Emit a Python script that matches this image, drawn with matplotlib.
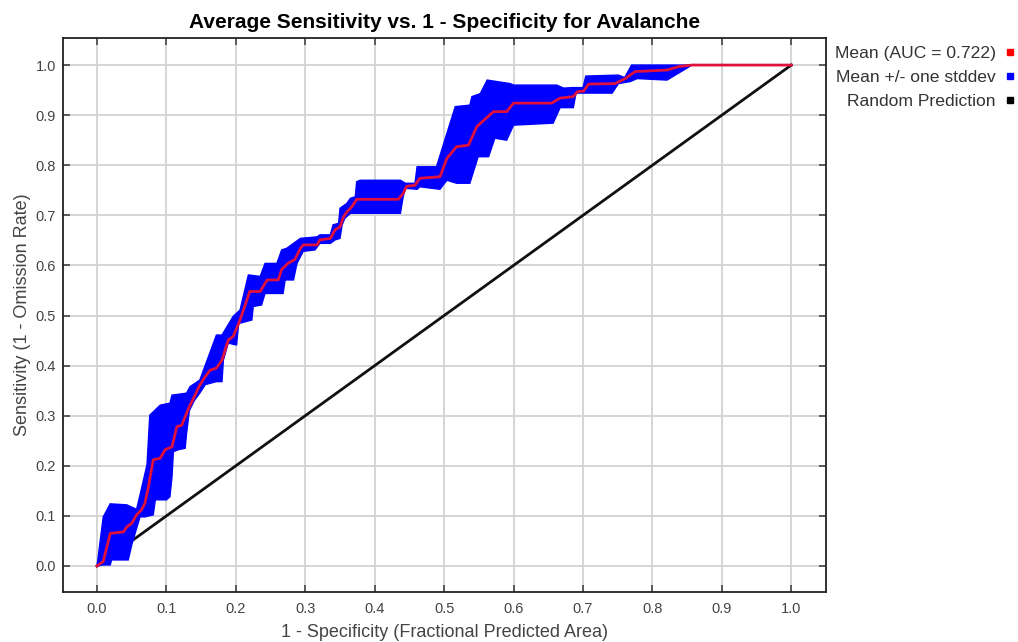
import numpy as np
import matplotlib
matplotlib.use('Agg')
import matplotlib.pyplot as plt
from matplotlib.lines import Line2D

plt.rcParams['font.family'] = ['Liberation Sans', 'DejaVu Sans']

# mean ROC curve (1 - specificity, sensitivity)
mean_x = [0.000, 0.009, 0.019, 0.038, 0.043, 0.050, 0.057, 0.064, 0.069, 0.074,
          0.081, 0.091, 0.098, 0.108, 0.115, 0.122, 0.132, 0.139, 0.148, 0.156,
          0.163, 0.172, 0.180, 0.189, 0.196, 0.204, 0.211, 0.220, 0.235, 0.245,
          0.261, 0.266, 0.275, 0.285, 0.293, 0.297, 0.317, 0.321, 0.336, 0.343,
          0.350, 0.355, 0.360, 0.367, 0.374, 0.434, 0.441, 0.446, 0.458, 0.465,
          0.494, 0.504, 0.518, 0.535, 0.547, 0.571, 0.590, 0.600, 0.655, 0.667,
          0.686, 0.692, 0.701, 0.708, 0.746, 0.761, 0.775, 0.821, 0.838, 0.857,
          1.000]
mean_y = [0.000, 0.009, 0.065, 0.068, 0.078, 0.085, 0.102, 0.112, 0.125, 0.158,
          0.212, 0.215, 0.232, 0.238, 0.278, 0.281, 0.315, 0.335, 0.361, 0.378,
          0.391, 0.395, 0.411, 0.451, 0.458, 0.484, 0.511, 0.548, 0.548, 0.571,
          0.571, 0.592, 0.604, 0.612, 0.634, 0.641, 0.641, 0.651, 0.654, 0.671,
          0.677, 0.697, 0.707, 0.717, 0.732, 0.732, 0.744, 0.758, 0.760, 0.774,
          0.777, 0.814, 0.837, 0.840, 0.877, 0.907, 0.907, 0.924, 0.924, 0.934,
          0.937, 0.947, 0.948, 0.962, 0.963, 0.973, 0.987, 0.990, 0.997, 1.000,
          1.000]

# mean + one stddev
upper_x = [0.000, 0.009, 0.019, 0.043, 0.057, 0.062, 0.072, 0.076, 0.091, 0.105,
           0.108, 0.129, 0.134, 0.148, 0.156, 0.172, 0.180, 0.196, 0.206, 0.218,
           0.235, 0.242, 0.259, 0.266, 0.273, 0.293, 0.317, 0.321, 0.336, 0.340,
           0.348, 0.350, 0.360, 0.365, 0.372, 0.374, 0.379, 0.437, 0.444, 0.458,
           0.461, 0.489, 0.516, 0.537, 0.540, 0.552, 0.562, 0.595, 0.600, 0.662,
           0.672, 0.686, 0.700, 0.704, 0.751, 0.760, 0.770, 1.000]
upper_y = [0.000, 0.098, 0.124, 0.122, 0.113, 0.142, 0.202, 0.301, 0.321, 0.325,
           0.341, 0.345, 0.358, 0.371, 0.401, 0.461, 0.461, 0.498, 0.511, 0.581,
           0.578, 0.604, 0.604, 0.631, 0.634, 0.654, 0.657, 0.661, 0.661, 0.681,
           0.684, 0.714, 0.724, 0.734, 0.737, 0.767, 0.770, 0.770, 0.764, 0.764,
           0.797, 0.797, 0.917, 0.920, 0.937, 0.943, 0.970, 0.963, 0.960, 0.960,
           0.954, 0.955, 0.955, 0.978, 0.980, 0.975, 1.000, 1.000]

# mean - one stddev
lower_x = [0.000, 0.009, 0.019, 0.021, 0.045, 0.050, 0.057, 0.062, 0.069, 0.081,
           0.084, 0.100, 0.105, 0.108, 0.110, 0.117, 0.127, 0.129, 0.133, 0.140,
           0.148, 0.156, 0.172, 0.180, 0.182, 0.189, 0.201, 0.204, 0.223, 0.225,
           0.237, 0.242, 0.268, 0.271, 0.283, 0.288, 0.297, 0.314, 0.321, 0.336,
           0.343, 0.350, 0.353, 0.357, 0.365, 0.437, 0.441, 0.444, 0.461, 0.465,
           0.494, 0.504, 0.518, 0.537, 0.549, 0.564, 0.573, 0.590, 0.600, 0.657,
           0.667, 0.686, 0.690, 0.742, 0.751, 0.768, 0.778, 0.821, 0.857, 1.000]
lower_y = [0.000, 0.002, 0.002, 0.012, 0.012, 0.042, 0.075, 0.098, 0.098, 0.102,
           0.132, 0.132, 0.138, 0.178, 0.228, 0.232, 0.235, 0.265, 0.310, 0.330,
           0.345, 0.362, 0.368, 0.368, 0.411, 0.445, 0.441, 0.484, 0.491, 0.518,
           0.521, 0.544, 0.544, 0.571, 0.571, 0.604, 0.628, 0.631, 0.644, 0.644,
           0.651, 0.654, 0.681, 0.694, 0.704, 0.704, 0.737, 0.754, 0.752, 0.757,
           0.752, 0.770, 0.764, 0.764, 0.817, 0.817, 0.854, 0.850, 0.880, 0.884,
           0.915, 0.915, 0.944, 0.944, 0.963, 0.967, 0.973, 0.970, 1.000, 1.000]

auc = 0.722
ticks = [0.0, 0.1, 0.2, 0.3, 0.4, 0.5, 0.6, 0.7, 0.8, 0.9, 1.0]

fig = plt.figure(figsize=(10.18, 6.42), dpi=100)
ax = fig.add_axes([63 / 1018, 1 - 592 / 642, (826 - 63) / 1018, (592 - 38) / 642])

# random prediction diagonal
ax.plot([0, 1], [0, 1], color='#111111', lw=2.0, zorder=2)

# stddev band
band_x = np.concatenate([upper_x, lower_x[::-1]])
band_y = np.concatenate([upper_y, lower_y[::-1]])
ax.fill(band_x, band_y, color='#0000ff', lw=1.0, ec='#0000ff', zorder=3)

# mean
ax.plot(mean_x, mean_y, color='#e0103c', lw=2.0, zorder=4)

ax.set_xlim(-0.049, 1.050)
ax.set_ylim(-0.052, 1.054)
ax.set_xticks(ticks)
ax.set_yticks(ticks)
ax.set_xticklabels(['%.1f' % t for t in ticks])
ax.set_yticklabels(['%.1f' % t for t in ticks])
ax.grid(color='#d2d2d2', lw=1.3)
ax.set_axisbelow(True)
ax.tick_params(direction='in', length=5, width=1.2, color='#444444',
               top=True, right=True, labelsize=10.5, labelcolor='#444444')
ax.tick_params(axis='x', pad=7)
ax.tick_params(axis='y', pad=5)
for sp in ax.spines.values():
    sp.set_linewidth(1.3)
    sp.set_color('#222222')

ax.set_title('Average Sensitivity vs. 1 - Specificity for Avalanche',
             fontsize=15, fontweight='bold', pad=7)
ax.set_xlabel('1 - Specificity (Fractional Predicted Area)', fontsize=13,
              color='#444444', labelpad=6)
ax.set_ylabel('Sensitivity (1 - Omission Rate)', fontsize=13,
              color='#444444', labelpad=3)

handles = [Line2D([], [], marker='s', ls='', color='#ff0000', markersize=5),
           Line2D([], [], marker='s', ls='', color='#0000ff', markersize=5),
           Line2D([], [], marker='s', ls='', color='#000000', markersize=5)]
labels = ['Mean (AUC = %.3f)' % auc, 'Mean +/- one stddev', 'Random Prediction']
fig.legend(handles, labels, loc='upper right', bbox_to_anchor=(1015 / 1018, 1 - 46 / 642),
           frameon=False, markerfirst=False, fontsize=12.6, labelcolor='#333333',
           handlelength=0.6, handletextpad=0.5, labelspacing=0.5,
           borderpad=0, borderaxespad=0)

fig.savefig('out.png', dpi=100)
